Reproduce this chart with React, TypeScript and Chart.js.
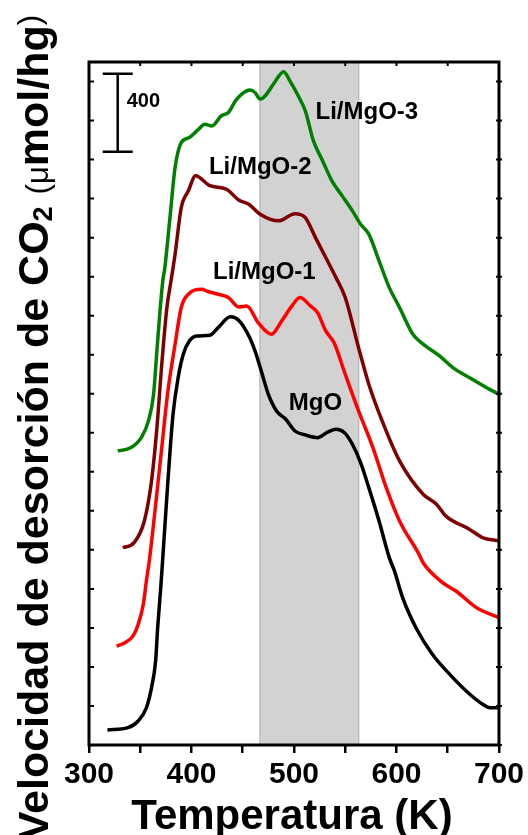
import React, { useEffect, useRef } from 'react';
import { Chart, registerables } from 'chart.js';

Chart.register(...registerables);

const FONT = '"Liberation Sans", Arial, Helvetica, sans-serif';

// ---- data (temperature K, desorption rate a.u. in µmol/hg) ----
const mgoT = [318, 338, 348, 356, 361, 365, 367, 370, 372, 377, 382, 387, 392, 398, 405, 418, 426, 438, 446, 456, 462, 469, 475, 483, 492, 501, 511, 523, 532, 541, 549, 557, 565, 573, 583, 593, 598, 606, 619, 635, 652, 668, 684, 691, 700];
const mgoV = [77, 89, 123, 191, 294, 431, 601, 806, 960, 1353, 1695, 1883, 2002, 2071, 2096, 2100, 2139, 2194, 2177, 2096, 2019, 1900, 1797, 1712, 1669, 1609, 1589, 1575, 1601, 1618, 1601, 1541, 1447, 1319, 1148, 960, 892, 755, 601, 465, 362, 277, 209, 191, 191];

const li1T = [327, 335, 343, 348, 353, 356, 359, 364, 371, 377, 384, 390, 397, 410, 416, 426, 436, 446, 454, 465, 478, 488, 498, 506, 516, 523, 531, 539, 550, 563, 577, 590, 603, 622, 626, 645, 658, 678, 700];
const li1V = [507, 524, 559, 619, 721, 841, 950, 1182, 1524, 1814, 2054, 2242, 2310, 2336, 2324, 2310, 2293, 2245, 2250, 2165, 2105, 2173, 2250, 2293, 2250, 2216, 2122, 2062, 1900, 1712, 1524, 1319, 1148, 977, 934, 832, 789, 704, 652];

const li2T = [333, 344, 354, 361, 366, 371, 376, 380, 384, 390, 397, 404, 418, 434, 446, 456, 467, 485, 501, 511, 521, 531, 541, 550, 563, 573, 586, 603, 626, 639, 648, 671, 684, 700];
const li2V = [1011, 1037, 1148, 1353, 1609, 1951, 2242, 2378, 2515, 2754, 2840, 2917, 2866, 2848, 2793, 2771, 2720, 2686, 2723, 2703, 2600, 2498, 2395, 2293, 2036, 1849, 1661, 1456, 1285, 1234, 1174, 1106, 1063, 1046];

const li3T = [328, 341, 351, 358, 363, 366, 369, 372, 374, 379, 384, 390, 398, 407, 413, 420, 429, 436, 443, 449, 457, 462, 467, 472, 480, 490, 496, 505, 511, 519, 528, 537, 547, 557, 565, 573, 583, 593, 603, 616, 626, 642, 655, 671, 688, 700];
const li3V = [1507, 1524, 1575, 1661, 1797, 2002, 2207, 2378, 2446, 2703, 2959, 3087, 3113, 3156, 3181, 3172, 3224, 3241, 3301, 3335, 3356, 3344, 3310, 3327, 3387, 3450, 3403, 3318, 3250, 3096, 2993, 2891, 2814, 2737, 2669, 2618, 2481, 2344, 2242, 2105, 2054, 1994, 1934, 1883, 1831, 1797];

const seriesNames = ['MgO', 'Li/MgO-1', 'Li/MgO-2', 'Li/MgO-3'];
const seriesColors = ['#000000', '#ff0000', '#7f0000', '#008000'];

// curve labels (left x in K, baseline value)
const labelTexts = ['Li/MgO-3', 'Li/MgO-2', 'Li/MgO-1', 'MgO'];
const labelX = [521, 417, 421, 495];
const labelY = [3207, 2925, 2388, 1717];

// highlighted temperature window
const bandRange = [466.3, 563.7];

// scale bar
const scaleBarX = 328;
const scaleBarFrom = 3040;
const scaleBarSize = 400;
const scaleBarLabel = '400';

// axes
const xMin = 300, xMax = 700, xStep = 50, xLabelStep = 100;
const yMin = 0, yMax = 3500, yStep = 200;
const xTitle = 'Temperatura (K)';

const zip = (t: number[], v: number[]) => t.map((x, i) => ({ x, y: v[i] }));

export default function App() {
  const ref = useRef<HTMLCanvasElement>(null);

  useEffect(() => {
    const canvas = ref.current!;
    const W = 528, H = 835;
    const left = 89, right = 501, top = 62, bottom = 745;

    const bandPlugin = {
      id: 'band',
      beforeDatasetsDraw(chart: any) {
        const { ctx, chartArea: a, scales } = chart;
        const x0 = scales.x.getPixelForValue(bandRange[0]);
        const x1 = scales.x.getPixelForValue(bandRange[1]);
        ctx.save();
        ctx.fillStyle = '#d2d2d2';
        ctx.fillRect(x0, a.top, x1 - x0, a.bottom - a.top);
        ctx.strokeStyle = '#b4b4b4';
        ctx.lineWidth = 1;
        ctx.beginPath();
        ctx.moveTo(x0 + 0.5, a.top); ctx.lineTo(x0 + 0.5, a.bottom);
        ctx.moveTo(x1 - 0.5, a.top); ctx.lineTo(x1 - 0.5, a.bottom);
        ctx.stroke();
        ctx.restore();
      },
    };

    const decorPlugin = {
      id: 'decor',
      afterDatasetsDraw(chart: any) {
        const { ctx, chartArea: a, scales } = chart;
        const xs = scales.x, ys = scales.y;
        ctx.save();
        ctx.strokeStyle = '#000';
        ctx.fillStyle = '#000';
        // frame
        ctx.lineWidth = 3;
        ctx.strokeRect(a.left, a.top, a.right - a.left, a.bottom - a.top);
        // minor ticks: left / right (y), top (x)
        ctx.lineWidth = 2;
        ctx.beginPath();
        for (let v = yMin; v < yMax; v += yStep) {
          const py = ys.getPixelForValue(v);
          ctx.moveTo(a.left, py); ctx.lineTo(a.left + 5, py);
          ctx.moveTo(a.right - 3, py); ctx.lineTo(a.right + 3, py);
        }
        for (let v = xMin; v <= xMax; v += xStep) {
          const px = xs.getPixelForValue(v);
          ctx.moveTo(px, a.top); ctx.lineTo(px, a.top + 4);
        }
        ctx.stroke();
        // scale bar
        const sx = xs.getPixelForValue(scaleBarX);
        const sy0 = ys.getPixelForValue(scaleBarFrom);
        const sy1 = ys.getPixelForValue(scaleBarFrom + scaleBarSize);
        ctx.lineWidth = 2.5;
        ctx.beginPath();
        ctx.moveTo(sx, sy0); ctx.lineTo(sx, sy1);
        ctx.moveTo(sx - 15, sy0); ctx.lineTo(sx + 15, sy0);
        ctx.moveTo(sx - 15, sy1); ctx.lineTo(sx + 15, sy1);
        ctx.stroke();
        ctx.font = `bold 20px ${FONT}`;
        ctx.textAlign = 'left';
        ctx.textBaseline = 'alphabetic';
        ctx.fillText(scaleBarLabel, sx + 9, ys.getPixelForValue(scaleBarFrom + scaleBarSize * 0.57));
        // curve labels
        ctx.font = `bold 24px ${FONT}`;
        labelTexts.forEach((t, i) => {
          ctx.fillText(t, xs.getPixelForValue(labelX[i]), ys.getPixelForValue(labelY[i]));
        });
        // x title
        ctx.font = `bold 42px ${FONT}`;
        ctx.textAlign = 'center';
        ctx.fillText(xTitle, (a.left + a.right) / 2 - 2, 829);
        // y title (rotated), drawn in pieces for the subscript
        const pieces: [string, string, number][] = [
          ['Velocidad de desorción de CO', `bold 43px ${FONT}`, 0],
          ['2', `bold 27px ${FONT}`, 4],
          [' ', `bold 43px ${FONT}`, 0],
          ['(\u03bc', `31px ${FONT}`, 0],
          ['mol/hg', `bold 43px ${FONT}`, 0],
          [')', `31px ${FONT}`, -8],
        ];
        let total = 0;
        const widths = pieces.map(([s, f]) => { ctx.font = f; const w = ctx.measureText(s).width; total += w; return w; });
        ctx.translate(48, 15);
        ctx.rotate(-Math.PI / 2);
        ctx.textAlign = 'left';
        let cx = -total;
        pieces.forEach(([s, f, dy], i) => {
          ctx.font = f;
          ctx.fillText(s, cx, dy);
          cx += widths[i];
        });
        ctx.restore();
      },
    };

    const datasets = [zip(mgoT, mgoV), zip(li1T, li1V), zip(li2T, li2V), zip(li3T, li3V)].map((d, i) => ({
      label: seriesNames[i],
      data: d,
      borderColor: seriesColors[i],
      backgroundColor: seriesColors[i],
      borderWidth: 3.5,
      pointRadius: 0,
      cubicInterpolationMode: 'monotone' as const,
      fill: false,
    }));

    const chart = new Chart(canvas, {
      type: 'line',
      data: { datasets },
      plugins: [bandPlugin, decorPlugin],
      options: {
        responsive: false,
        animation: false,
        layout: { padding: { left: 0, top: top, right: W - right, bottom: 0 } },
        plugins: { legend: { display: false }, tooltip: { enabled: false } },
        scales: {
          x: {
            type: 'linear',
            min: xMin,
            max: xMax,
            border: { display: false },
            grid: { display: true, drawOnChartArea: false, drawTicks: true, tickLength: 8, lineWidth: 2.5, color: '#000' },
            ticks: {
              stepSize: xStep,
              autoSkip: false,
              maxRotation: 0,
              padding: 4,
              color: '#000',
              font: { family: FONT, size: 30, weight: 'bold' },
              callback: (v: any) => (Number(v) % xLabelStep === 0 ? String(v) : ''),
            },
            afterFit: (s: any) => { s.height = H - bottom; },
          },
          y: {
            type: 'linear',
            min: yMin,
            max: yMax,
            border: { display: false },
            grid: { display: false },
            ticks: { display: false, stepSize: yStep },
            afterFit: (s: any) => { s.width = left; },
          },
        },
      },
    });
    return () => chart.destroy();
  }, []);

  return (
    <div style={{ position: 'fixed', left: 0, top: 0, width: 528, height: 835, background: '#fff' }}>
      <canvas ref={ref} width={528} height={835} style={{ display: 'block' }} />
    </div>
  );
}
